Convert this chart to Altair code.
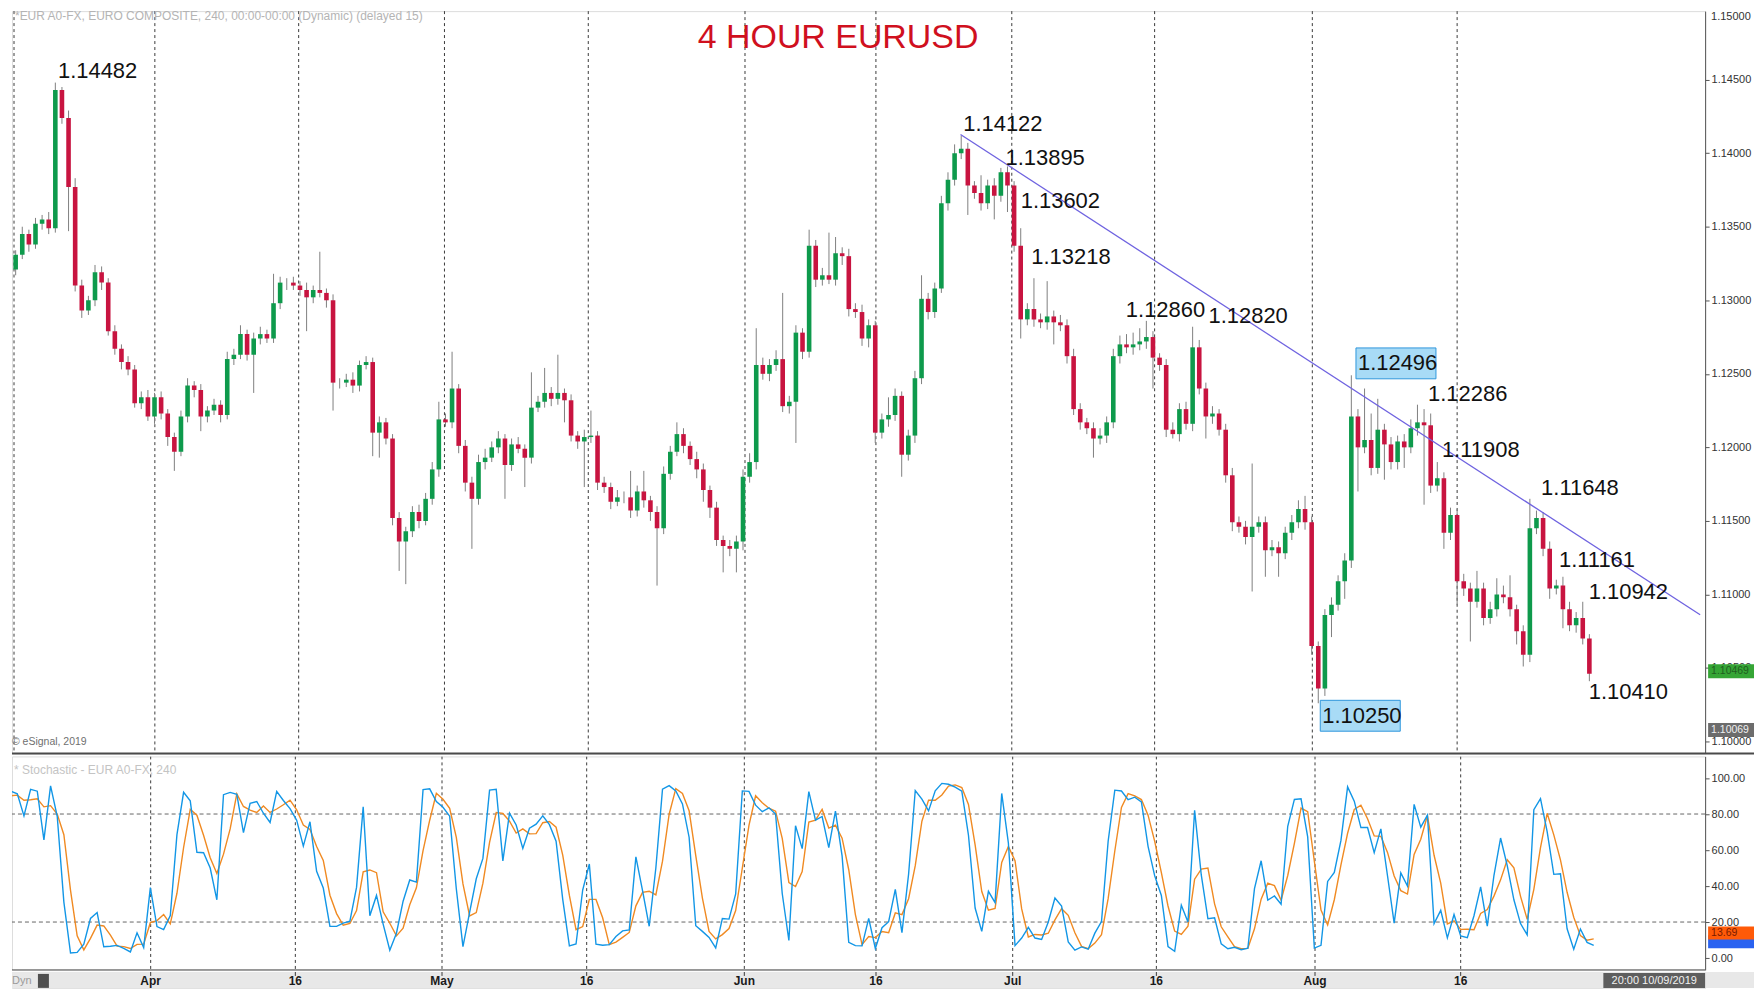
import altair as alt
import pandas as pd

# ---------------- data ----------------
# 12-hour candles (close), EURUSD
closes = [
    1.1321, 1.1331, 1.1345, 1.1338, 1.1352, 1.1355, 1.1349, 1.1443, 1.1424, 1.1377,
    1.1310, 1.1293, 1.1300, 1.1319, 1.1312, 1.1279, 1.1267, 1.1258, 1.1253, 1.1230,
    1.1234, 1.1221, 1.1234, 1.1223, 1.1207, 1.1197, 1.1221, 1.1242, 1.1239, 1.1221,
    1.1225, 1.1229, 1.1222, 1.1260, 1.1263, 1.1277, 1.1263, 1.1274, 1.1277, 1.1274,
    1.1298, 1.1312, 1.1312, 1.1310, 1.1307, 1.1302, 1.1307, 1.1305, 1.1300, 1.1244,
    1.1244, 1.1246, 1.1242, 1.1256, 1.1258, 1.1210, 1.1217, 1.1206, 1.1152, 1.1136,
    1.1143, 1.1156, 1.1150, 1.1165, 1.1185, 1.1219, 1.1217, 1.1240, 1.1201, 1.1176,
    1.1165, 1.1190, 1.1193, 1.1200, 1.1206, 1.1188, 1.1202, 1.1199, 1.1193, 1.1227,
    1.1231, 1.1237, 1.1233, 1.1237, 1.1232, 1.1208, 1.1204, 1.1207, 1.1208, 1.1176,
    1.1173, 1.1163, 1.1166, 1.1166, 1.1157, 1.1170, 1.1164, 1.1156, 1.1145, 1.1182,
    1.1197, 1.1209, 1.1201, 1.1192, 1.1185, 1.1171, 1.1159, 1.1137, 1.1133, 1.1131,
    1.1136, 1.1180, 1.1190, 1.1256, 1.1250, 1.1256, 1.1260, 1.1228, 1.1231, 1.1278,
    1.1265, 1.1337, 1.1314, 1.1317, 1.1314, 1.1332, 1.1330, 1.1294, 1.1292, 1.1274,
    1.1283, 1.1210, 1.1219, 1.1222, 1.1235, 1.1195, 1.1208, 1.1247, 1.1301, 1.1292,
    1.1308, 1.1366, 1.1382, 1.1400, 1.1403, 1.1378, 1.1373, 1.1366, 1.1378, 1.1371,
    1.1387, 1.1378, 1.1337, 1.1287, 1.1294, 1.1287, 1.1285, 1.1289, 1.1285, 1.1283,
    1.1262, 1.1226, 1.1217, 1.1213, 1.1206, 1.1208, 1.1217, 1.1262, 1.1270, 1.1268,
    1.1270, 1.1272, 1.1275, 1.1261, 1.1256, 1.1212, 1.1209, 1.1226, 1.1216, 1.1268,
    1.1240, 1.1221, 1.1223, 1.1212, 1.1181, 1.1149, 1.1146, 1.1139, 1.1146, 1.1149,
    1.1130, 1.1132, 1.1128, 1.1142, 1.1149, 1.1158, 1.1149, 1.1065, 1.1036, 1.1086,
    1.1093, 1.1109, 1.1123, 1.1221, 1.1200, 1.1205, 1.1186, 1.1212, 1.1202, 1.1190,
    1.1204, 1.1200, 1.1213, 1.1217, 1.1215, 1.1174, 1.1179, 1.1142, 1.1154, 1.1109,
    1.1104, 1.1095, 1.1104, 1.1084, 1.1090, 1.1100, 1.1098, 1.1090, 1.1075, 1.1059,
    1.1145, 1.1152, 1.1131, 1.1104, 1.1106, 1.1090, 1.1079, 1.1084, 1.1070, 1.1046,
]
# upper / lower wick length of each candle, in pips
wick_up = [
    4, 3, 5, 3, 4, 3, 5, 5, 2, 5,
    6, 4, 3, 5, 4, 3, 4, 3, 4, 3,
    4, 5, 3, 4, 3, 3, 4, 5, 3, 4,
    3, 4, 3, 5, 4, 6, 3, 4, 5, 3,
    20, 4, 3, 4, 3, 5, 3, 26, 3, 4,
    3, 4, 5, 3, 4, 3, 4, 3, 3, 4,
    3, 4, 5, 4, 5, 12, 4, 25, 3, 4,
    4, 5, 6, 4, 5, 3, 4, 5, 3, 24,
    4, 17, 4, 26, 3, 4, 3, 5, 17, 3,
    4, 3, 5, 4, 18, 4, 14, 3, 4, 5,
    4, 8, 4, 3, 5, 4, 3, 4, 3, 4,
    4, 5, 6, 25, 5, 4, 6, 45, 4, 5,
    3, 11, 4, 5, 29, 11, 4, 5, 4, 5,
    4, 3, 4, 12, 5, 3, 4, 5, 16, 4,
    4, 5, 5, 6, 9, 4, 3, 12, 4, 5,
    3, 4, 3, 12, 4, 21, 4, 24, 4, 5,
    4, 5, 4, 3, 4, 5, 4, 5, 6, 7,
    8, 9, 11, 4, 3, 4, 5, 4, 5, 14,
    5, 4, 5, 3, 4, 5, 4, 4, 43, 4,
    4, 5, 4, 4, 5, 6, 9, 4, 3, 4,
    5, 4, 5, 28, 5, 35, 18, 21, 4, 5,
    4, 5, 6, 12, 9, 8, 11, 4, 5, 4,
    5, 4, 12, 4, 5, 11, 6, 15, 3, 4,
    20, 5, 4, 5, 4, 6, 5, 4, 11, 3,
]
wick_dn = [
    21, 4, 3, 5, 3, 4, 4, 3, 4, 30,
    4, 5, 3, 4, 5, 3, 4, 5, 4, 3,
    4, 3, 5, 4, 6, 13, 3, 4, 5, 10,
    4, 3, 5, 3, 4, 3, 4, 26, 4, 3,
    3, 4, 5, 3, 4, 23, 4, 3, 5, 19,
    4, 3, 5, 4, 3, 16, 17, 4, 5, 20,
    29, 4, 5, 3, 4, 5, 3, 4, 5, 6,
    34, 4, 5, 3, 4, 23, 4, 3, 20, 4,
    3, 4, 5, 4, 15, 4, 5, 31, 4, 5,
    4, 5, 3, 4, 5, 4, 5, 6, 39, 4,
    4, 3, 5, 4, 6, 8, 7, 4, 18, 5,
    16, 6, 4, 5, 4, 5, 4, 4, 5, 28,
    5, 4, 5, 4, 3, 4, 6, 5, 4, 5,
    6, 7, 4, 5, 4, 15, 4, 5, 4, 5,
    4, 3, 5, 4, 4, 20, 4, 5, 4, 16,
    4, 18, 4, 13, 4, 5, 4, 5, 15, 4,
    5, 4, 5, 4, 13, 4, 5, 4, 5, 4,
    5, 4, 5, 21, 4, 5, 3, 5, 4, 5,
    4, 15, 5, 4, 5, 6, 4, 5, 37, 4,
    18, 4, 16, 4, 5, 4, 5, 6, 10, 5,
    15, 4, 12, 5, 30, 4, 5, 4, 24, 5,
    5, 14, 4, 5, 54, 5, 4, 11, 5, 16,
    5, 27, 4, 5, 4, 5, 4, 5, 9, 8,
    5, 4, 5, 7, 4, 13, 4, 5, 4, 5,
]
first_open = 1.1314

price_ticks = [1.10, 1.105, 1.11, 1.115, 1.12, 1.125, 1.13, 1.135, 1.14, 1.145]
top_tick_label = "1.15000"
stoch_ticks = [0, 20, 40, 60, 80, 100]
stoch_levels = [20, 80]

date_pos = [0.75, 22.05, 43.8, 65.85, 87.6, 111.3, 131.1, 151.65, 173.25, 197.1, 219.0]
date_labels = ["", "Apr", "16", "May", "16", "Jun", "16", "Jul", "16", "Aug", "16"]

label_vals = [1.14482, 1.14122, 1.13895, 1.13602, 1.13218, 1.12860, 1.12820, 1.12496,
              1.12286, 1.11908, 1.11648, 1.11161, 1.10942, 1.10410, 1.10250]
label_k = [7.4, 144.3, 150.7, 153.0, 154.6, 168.9, 181.4, 204.0,
           214.6, 216.7, 231.7, 234.4, 238.9, 238.9, 198.6]
label_side = [1, 1, 1, 1, 1, 1, 1, 1, 1, 1, 1, 1, 1, -1, -1]
label_boxed = [0, 0, 0, 0, 0, 0, 0, 1, 0, 0, 0, 0, 0, 0, 1]

trend_k = [143.9, 255.75]
trend_p = [1.14127, 1.10862]

last_price_tag = "1.10469"
last_price_val = 1.10478
cursor_tag = "1.10069"
cursor_val = 1.10078
stoch_tag = "13.69"
stoch_tag_val = 13.9
stoch_tag2_val = 9.0

# ---------------- tables built from the lists ----------------
opens = [first_open] + closes[:-1]
n = len(closes)
price_df = pd.DataFrame({
    "k": list(range(n)),
    "open": opens,
    "close": closes,
    "high": [max(o, c) + u / 10000 for o, c, u in zip(opens, closes, wick_up)],
    "low": [min(o, c) - d / 10000 for o, c, d in zip(opens, closes, wick_dn)],
})

date_df = pd.DataFrame({"k": date_pos, "lab": date_labels})
label_df = pd.DataFrame({
    "k": label_k,
    "ty": [v + s * 0.00075 for v, s in zip(label_vals, label_side)],
    "txt": [f"{v:.5f}" for v in label_vals],
})
box_df = pd.DataFrame({
    "x0": [k - 0.3 for k, b in zip(label_k, label_boxed) if b],
    "x1": [k + 11.8 for k, b in zip(label_k, label_boxed) if b],
    "top": [v + s * 0.00075 + 0.00105 for v, s, b in zip(label_vals, label_side, label_boxed) if b],
    "bot": [v + s * 0.00075 - 0.00105 for v, s, b in zip(label_vals, label_side, label_boxed) if b],
})
trend_df = pd.DataFrame({"k": trend_k, "p": trend_p})
one = pd.DataFrame({"a": [0]})

# ---------------- layout ----------------
W = 1697
EXT = 49          # room right of the plot for the axis labels and price tags
H1 = 744
H2 = 214
H3 = 16
XDOM = [1.2, 255.75]
PDOM = [1.09919, 1.14966]
SDOM = [-6.6, 112]
FONT = "Liberation Sans"

xs = alt.Scale(domain=XDOM, nice=False, zero=False)
ps = alt.Scale(domain=PDOM, nice=False, zero=False)
ss = alt.Scale(domain=SDOM, nice=False, zero=False)


def right_axis(values, fmt):
    return alt.Axis(orient="right", values=values, format=fmt, grid=False, title=None,
                    labelFontSize=11, labelColor="#333", tickSize=4, tickColor="#555",
                    domainColor="#555", labelPadding=2, labelFont=FONT)


def tag_layers(value, text, fill, text_color, scale, half):
    df = pd.DataFrame({"v": [value], "t1": [value + half], "t2": [value - half], "t": [text]})
    c = alt.Chart(df)
    rect = c.mark_rect(color=fill).encode(
        x=alt.value(W + 3), x2=alt.value(W + EXT),
        y=alt.Y("t1:Q", scale=scale, title=None), y2="t2:Q")
    txt = c.mark_text(align="left", baseline="middle", fontSize=10.5, font=FONT,
                      color=text_color).encode(
        x=alt.value(W + 6), y=alt.Y("v:Q", scale=scale, title=None), text="t:N")
    return [rect, txt]


def fixed_text(text, x, y, size, color, align="left", weight="normal", baseline="middle"):
    return alt.Chart(one).mark_text(
        text=text, align=align, baseline=baseline, fontSize=size, color=color,
        font=FONT, fontWeight=weight).encode(x=alt.value(x), y=alt.value(y))


# ---------------- price panel ----------------
vlines = alt.Chart(date_df).mark_rule(color="#3a3a3a", strokeDash=[3, 3], strokeWidth=1,
                                      clip=True).encode(
    x=alt.X("k:Q", scale=xs, axis=None))

wicks = alt.Chart(price_df).mark_rule(color="#808080", strokeWidth=1, clip=True).encode(
    x=alt.X("k:Q", scale=xs, axis=None),
    y=alt.Y("low:Q", scale=ps, title=None, axis=right_axis(price_ticks, ".5f")),
    y2="high:Q")

up_bodies = alt.Chart(price_df).transform_filter("datum.close >= datum.open").mark_bar(
    size=4.6, color="#0e9a4c", clip=True).encode(
    x=alt.X("k:Q", scale=xs, axis=None),
    y=alt.Y("open:Q", scale=ps, title=None),
    y2="close:Q")
down_bodies = alt.Chart(price_df).transform_filter("datum.close < datum.open").mark_bar(
    size=4.6, color="#c81440", clip=True).encode(
    x=alt.X("k:Q", scale=xs, axis=None),
    y=alt.Y("open:Q", scale=ps, title=None),
    y2="close:Q")

trend = alt.Chart(trend_df).mark_line(color="#6f63e0", strokeWidth=1.3, clip=True).encode(
    x=alt.X("k:Q", scale=xs, axis=None), y=alt.Y("p:Q", scale=ps, title=None))

boxes = alt.Chart(box_df).mark_rect(fill="#a8dbf6", stroke="#2f97dc", strokeWidth=1).encode(
    x=alt.X("x0:Q", scale=xs, axis=None), x2="x1:Q",
    y=alt.Y("top:Q", scale=ps, title=None), y2="bot:Q")

labels = alt.Chart(label_df).mark_text(align="left", baseline="middle", fontSize=22,
                                       color="#111111", font=FONT).encode(
    x=alt.X("k:Q", scale=xs, axis=None),
    y=alt.Y("ty:Q", scale=ps, title=None),
    text="txt:N")

header = fixed_text("*EUR A0-FX, EURO COMPOSITE, 240, 00:00-00:00 (Dynamic) (delayed 15)",
                    3, 0, 12, "#b4b4b4", baseline="top")
top_label = fixed_text(top_tick_label, W + 6, 0, 11, "#333", baseline="top")
title = fixed_text("4 HOUR EURUSD", 828, 27, 34, "#d0101e", align="center")
copyr = fixed_text("© eSignal, 2019", 0, H1 - 11, 10.5, "#707070")

sep = alt.Chart(one).mark_rule(color="#4a4a4a", strokeWidth=2).encode(
    x=alt.value(0), x2=alt.value(W + EXT), y=alt.value(H1))

price_tags = (tag_layers(last_price_val, last_price_tag, "#35a535", "#1f5f1f", ps, 0.00048)
              + tag_layers(cursor_val, cursor_tag, "#6c6c6c", "#f0f0f0", ps, 0.00048))

price_panel = alt.layer(
    vlines, wicks, up_bodies, down_bodies, trend, boxes, labels, header, top_label, title,
    copyr, sep, *price_tags
).properties(width=W, height=H1)

# ---------------- stochastic panel ----------------
stoch_lines = alt.Chart(price_df).transform_window(
    hh="max(high)", ll="min(low)", frame=[-4, 0], sort=[alt.SortField("k", order="ascending")]
).transform_calculate(
    K="100 * (datum.close - datum.ll) / max(datum.hh - datum.ll, 0.00001)"
).transform_window(
    D="mean(K)", frame=[-2, 0], sort=[alt.SortField("k", order="ascending")]
).transform_fold(["D", "K"], as_=["series", "val"]).mark_line(strokeWidth=1.4, clip=True).encode(
    x=alt.X("k:Q", scale=xs, axis=None),
    y=alt.Y("val:Q", scale=ss, title=None),
    color=alt.Color("series:N", scale=alt.Scale(domain=["D", "K"], range=["#f08a22", "#1296e6"]),
                    legend=None),
)

vlines2 = alt.Chart(date_df).mark_rule(color="#3a3a3a", strokeDash=[3, 3], strokeWidth=1,
                                       clip=True).encode(
    x=alt.X("k:Q", scale=xs, axis=None))

hlines = alt.Chart(pd.DataFrame({"v": stoch_levels})).mark_rule(
    color="#666", strokeDash=[4, 3], strokeWidth=1).encode(
    y=alt.Y("v:Q", scale=ss, title=None, axis=right_axis(stoch_ticks, ".2f")))

st_header = fixed_text("* Stochastic - EUR A0-FX, 240", 2, 14, 12, "#c4c4c4")

bottom_line = alt.Chart(one).mark_rule(color="#4a4a4a", strokeWidth=1).encode(
    x=alt.value(0), x2=alt.value(W), y=alt.value(H2))

stoch_tags = (tag_layers(stoch_tag2_val, "", "#2a62f0", "#ffffff", ss, 3.6)
              + tag_layers(stoch_tag_val, stoch_tag, "#ff5a08", "#7a1a00", ss, 3.6))

stoch_panel = alt.layer(
    vlines2, hlines, stoch_lines, st_header, bottom_line, *stoch_tags
).properties(width=W, height=H2)

# ---------------- date strip ----------------
strip_bg = alt.Chart(one).mark_rect(color="#e8e8e8").encode(
    x=alt.value(0), x2=alt.value(W + EXT), y=alt.value(0), y2=alt.value(H3))
strip_ticks = alt.Chart(date_df).mark_rule(color="#3a3a3a", strokeWidth=1, clip=True).encode(
    x=alt.X("k:Q", scale=xs, axis=None), y=alt.value(0), y2=alt.value(4))
strip_txt = alt.Chart(date_df).mark_text(baseline="middle", fontSize=12, fontWeight="bold",
                                         color="#1a1a1a", font=FONT).encode(
    x=alt.X("k:Q", scale=xs, axis=None), y=alt.value(H3 / 2 + 1), text="lab:N")
dyn = fixed_text("Dyn", 0, H3 / 2 + 1, 11, "#9a9a9a")
lock = alt.Chart(one).mark_rect(color="#505050").encode(
    x=alt.value(26), x2=alt.value(37), y=alt.value(2), y2=alt.value(H3))
time_box = alt.Chart(one).mark_rect(color="#5e5e5e").encode(
    x=alt.value(W - 102), x2=alt.value(W), y=alt.value(1), y2=alt.value(H3))
time_txt = fixed_text("20:00 10/09/2019", W - 51, H3 / 2 + 1, 11, "#f2f2f2", align="center")

strip = alt.layer(strip_bg, strip_ticks, strip_txt, dyn, lock, time_box, time_txt).properties(
    width=W, height=H3)

chart = alt.vconcat(price_panel, stoch_panel, strip, spacing=0).resolve_scale(
    color="independent").properties(padding=0).configure_view(
    stroke=None).configure(font=FONT, background="white")

chart.save("out.html", embed_options={"renderer": "svg", "actions": False})
